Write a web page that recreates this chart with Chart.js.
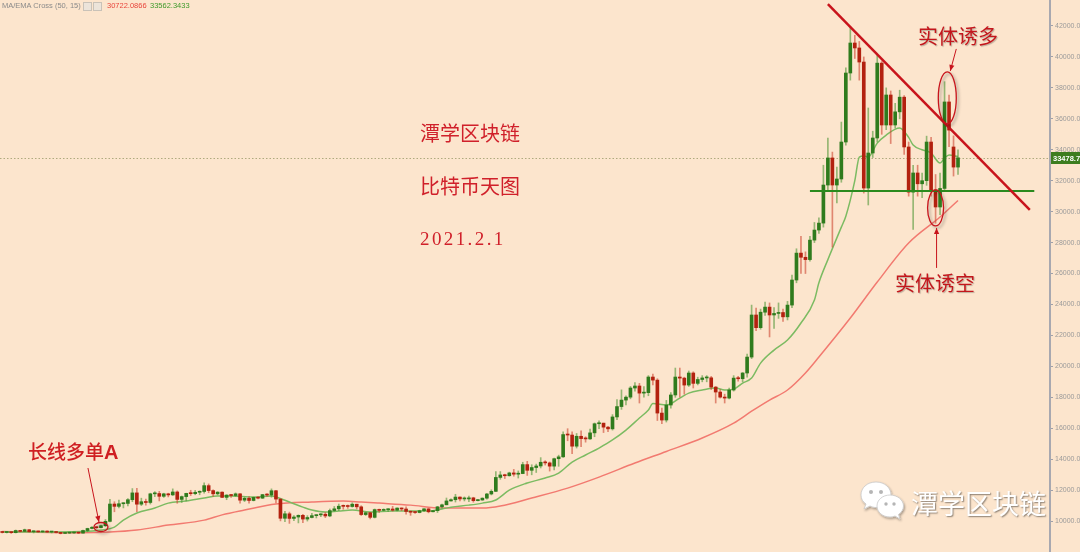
<!DOCTYPE html>
<html>
<head>
<meta charset="utf-8">
<script src="https://cdn.jsdelivr.net/npm/chart.js@4.4.1/dist/chart.umd.min.js"></script>
<style>
html,body{margin:0;padding:0;background:#fce5cd;}
#wrap{position:relative;width:1080px;height:552px;overflow:hidden;background:#fce5cd;}
#c{position:absolute;left:0;top:0;}
.t{position:absolute;white-space:nowrap;line-height:1;font-family:"Noto Sans CJK SC",sans-serif;}
.red{color:#d0202a;}
.hdr{position:absolute;top:2px;font-family:"Liberation Sans",Arial,sans-serif;font-size:7.5px;line-height:1;white-space:nowrap;}
.box{position:absolute;top:2px;width:7px;height:7px;border:1px solid #c9c2b8;background:#ece4da;}
</style>
</head>
<body>
<div id="wrap">
<canvas id="c" width="1080" height="552"></canvas>

<div class="hdr" style="left:2px;color:#8a8a8a;">MA/EMA Cross (50, 15)</div>
<div class="hdr" style="left:76px;color:#b0a8a0;">-</div>
<div class="box" style="left:83px;"></div>
<div class="box" style="left:93px;"></div>
<div class="hdr" style="left:107px;color:#e8453c;">30722.0866</div>
<div class="hdr" style="left:150px;color:#3f9a2c;">33562.3433</div>

<div class="t red" style="left:420px;top:123px;font-size:20px;">潭学区块链</div>
<div class="t red" style="left:420px;top:176px;font-size:20px;">比特币天图</div>
<div class="t red" style="left:420px;top:229px;font-size:19px;font-family:'Liberation Serif',serif;letter-spacing:2.4px;">2021.2.1</div>

<div class="t" style="left:918px;top:26px;font-size:20px;color:#c3161c;text-shadow:1px 1px 1px rgba(0,0,0,0.25);">实体诱多</div>
<div class="t" style="left:895px;top:273px;font-size:20px;color:#c3161c;text-shadow:1px 1px 1px rgba(0,0,0,0.25);">实体诱空</div>
<div class="t" style="left:28px;top:441px;font-size:19px;color:#cf1f22;font-weight:500;">长线多单<span style="font-family:'Liberation Sans',Arial,sans-serif;font-weight:bold;font-size:20px;">A</span></div>

<svg style="position:absolute;left:859px;top:480px;" width="48" height="44" viewBox="0 0 48 44">
  <defs><filter id="sh" x="-30%" y="-30%" width="160%" height="160%"><feDropShadow dx="1" dy="1.5" stdDeviation="1.2" flood-color="#000" flood-opacity="0.35"/></filter></defs>
  <g filter="url(#sh)">
    <path d="M17 2 C8 2 2 8 2 15 C2 19 4 22 7 24 L5 29 L11 26 C13 27 15 27.5 17 27.5 C26 27.5 32 21.5 32 15 C32 8 26 2 17 2 Z" fill="#fff" stroke="#c8c8c8" stroke-width="0.8"/>
    <path d="M31 15 C23.5 15 18 20 18 26 C18 32 23.5 37 31 37 C33 37 34.5 36.6 36 36 L41 39 L39.5 34.5 C42.5 32.3 44.5 29.3 44.5 26 C44.5 20 38.5 15 31 15 Z" fill="#fff" stroke="#c8c8c8" stroke-width="0.8"/>
  </g>
  <circle cx="12" cy="12" r="2" fill="#b5b5b5"/><circle cx="22" cy="12" r="2" fill="#b5b5b5"/>
  <circle cx="27" cy="24" r="1.7" fill="#b5b5b5"/><circle cx="35" cy="24" r="1.7" fill="#b5b5b5"/>
</svg>
<div class="t" style="left:911px;top:489px;font-size:27px;color:#ffffff;text-shadow:1px 1px 1.5px rgba(0,0,0,0.45);">潭学区块链</div>
</div>

<script>
// ---------- data ----------
const startDate = '2020-07-03';
const slotCount = 234;   // daily slots shown on the time axis (data + empty right margin)

const opens = [
9300,9260,9290,9250,9390,9330,9440,9310,9330,9300,9340,9290,9300,9260,9200,9220,9230,9270,9220,9390,9520,9600,9570,9700,9980,11100,10950,11120,11140,
11380,11820,11090,11250,11200,11760,11780,11600,11760,11690,11880,11400,11580,11790,11770,11860,11910,12290,11970,11760,11870,11530,11680,11650,11760,11350,11470,11330,11530,11480,11710,
11680,11960,11420,10180,10470,10170,10260,10370,10130,10230,10350,10400,10440,10330,10680,10790,10960,10950,10940,11090,10920,10420,10540,10240,10740,10690,10730,10780,10700,10840,
10780,10620,10570,10550,10670,10790,10600,10670,10920,11050,11300,11380,11550,11430,11430,11500,11320,11360,11480,11750,11920,12820,12980,12930,13110,13030,13070,13650,13280,13460,13560,
13800,13760,13550,14030,14150,15590,15560,14840,15480,15330,15310,15700,16290,16330,16070,15960,16730,17400,17820,18010,18600,18730,18270,18300,19310,19110,16980,16530,17500,18150,
19310,19240,18790,19570,18900,19150,19250,19260,18660,18340,18010,17950,18470,19240,19200,19570,20600,23320,22500,23500,23830,23320,23420,23480,23200,23960,25580,27320,27050,26900,28160,
28810,29260,31720,33470,31720,32110,34500,38960,40900,40580,39670,31525,33790,34760,39600,35600,37540,35600,36450,37400,34180,31260,32500,31800,32000,34500,31400,30300,31500,37090,34180,
32880];
const highs = [
9330,9320,9300,9420,9400,9480,9460,9360,9350,9360,9370,9320,9310,9270,9240,9250,9280,9280,9410,9540,9640,9640,9740,10100,11400,11250,11350,11180,11450,
12100,12120,11480,11420,11800,11900,11920,11800,11800,12080,11950,11620,11800,11990,11980,11950,12470,12400,12020,11900,11890,11700,11720,11820,11770,11540,11580,11550,11580,11720,11780,
12080,11980,11450,10630,10580,10350,10400,10430,10350,10500,10400,10480,10560,10780,10940,11100,11040,11040,11180,11090,10990,10580,10560,10780,10780,10790,10800,10950,10860,10850,
10920,10650,10600,10700,10800,10800,10690,10950,11100,11490,11440,11730,11560,11560,11620,11540,11400,11500,11800,12020,13200,13200,13030,13160,13340,13240,13800,13860,13640,13680,14100,
13900,13820,14070,14260,15760,15970,15770,15660,15840,15450,15950,16340,16480,16330,16130,16880,17850,18480,18100,18700,18950,18900,18700,19400,19500,19200,17300,17800,18300,19890,
19890,19300,19700,19650,19300,19400,19400,19350,18700,18500,18200,18600,19400,19350,19600,20800,23960,23770,23700,24160,24100,23800,24100,23700,24200,25900,27600,28400,27400,28400,29300,
29600,33000,34760,33850,32880,35790,39300,41930,41400,41000,40000,36700,35200,40100,39700,38000,37800,37000,37850,37500,34500,33000,33000,32500,34880,34800,32400,32500,38400,37540,34900,
34000];
const lows = [
9230,9230,9200,9230,9300,9320,9280,9230,9280,9270,9260,9230,9230,9170,9180,9200,9200,9200,9210,9300,9490,9530,9560,9650,9950,10600,10850,10850,10980,
11250,10600,11000,11020,11100,11580,11300,11530,11560,11650,11150,11200,11300,11650,11700,11700,11800,11830,11600,11690,11510,11380,11530,11600,11150,11260,11150,11300,11430,11460,11600,
11540,11180,10010,9960,9850,10030,9880,9900,10000,10200,10200,10290,10220,10280,10630,10670,10760,10820,10900,10780,10360,10360,10140,10200,10560,10660,10630,10640,10650,10670,
10450,10370,10500,10530,10610,10530,10590,10550,10830,11050,11280,11230,11300,11300,11260,11220,11300,11340,11420,11690,11900,12700,12750,12900,12900,12780,13060,12950,12990,13140,13430,
13620,13230,13300,13540,14110,15190,14360,14720,14810,15100,15280,15450,15970,15720,15770,15880,16550,17220,17500,17900,18400,17630,18000,18100,18800,16500,16300,16400,17300,18000,
18010,18200,18700,18600,18800,19000,19000,18500,17630,17950,17630,17900,18400,19050,19000,19300,20500,22300,22400,23300,21900,22450,23100,22900,23000,23800,25400,26000,26000,26800,28000,
28600,29000,31400,27710,30560,31900,34300,38500,39900,38500,31200,30430,33500,34500,35000,35300,34400,35400,36000,33700,31000,28850,31000,30900,31700,31000,29250,29800,31300,34200,32300,
32400];
const closes = [
9260,9290,9250,9390,9330,9440,9310,9330,9300,9340,9290,9300,9260,9200,9220,9230,9270,9220,9390,9520,9600,9570,9700,9980,11100,10950,11120,11140,11380,
11820,11090,11250,11200,11760,11780,11600,11760,11690,11880,11400,11580,11790,11770,11860,11910,12290,11970,11760,11870,11530,11680,11650,11760,11350,11470,11330,11530,11480,11710,11680,
11960,11420,10180,10470,10170,10260,10370,10130,10230,10350,10400,10440,10330,10680,10790,10960,10950,10940,11090,10920,10420,10540,10240,10740,10690,10730,10780,10700,10840,10780,
10620,10570,10550,10670,10790,10600,10670,10920,11050,11300,11380,11550,11430,11430,11500,11320,11360,11480,11750,11920,12820,12980,12930,13110,13030,13070,13650,13280,13460,13560,13800,
13760,13550,14030,14150,15590,15560,14840,15480,15330,15310,15700,16290,16330,16070,15960,16730,17400,17820,18010,18600,18730,18270,18300,19310,19110,16980,16530,17500,18150,19310,
19240,18790,19570,18900,19150,19250,19260,18660,18340,18010,17950,18470,19240,19200,19570,20600,23320,22500,23500,23830,23320,23420,23480,23200,23960,25580,27320,27050,26900,28160,28810,
29260,31720,33470,31720,32110,34500,38960,40900,40580,39670,31525,33790,34760,39600,35600,37540,35600,36450,37400,34180,31260,32500,31800,32000,34500,31400,30300,31500,37090,35270,32880,
33478.71];

const emaDates = ['2020-07-03','2020-07-21','2020-07-25','2020-07-28','2020-07-30','2020-08-02','2020-08-06','2020-08-09','2020-08-13','2020-08-17','2020-08-20','2020-08-23','2020-08-28','2020-09-01','2020-09-02','2020-09-05','2020-09-08','2020-09-10','2020-09-13','2020-09-16','2020-09-19','2020-09-23','2020-09-28','2020-10-02','2020-10-06','2020-10-09','2020-10-11','2020-10-15','2020-10-18','2020-10-21','2020-10-24','2020-10-28','2020-11-01','2020-11-04','2020-11-07','2020-11-10','2020-11-13','2020-11-16','2020-11-19','2020-11-22','2020-11-24','2020-11-25','2020-11-28','2020-12-01','2020-12-03','2020-12-06','2020-12-09','2020-12-11','2020-12-13','2020-12-15','2020-12-17','2020-12-19','2020-12-22','2020-12-25','2020-12-28','2020-12-31','2021-01-01','2021-01-03','2021-01-06','2021-01-07','2021-01-09','2021-01-10','2021-01-11','2021-01-12','2021-01-14','2021-01-16','2021-01-19','2021-01-21','2021-01-22','2021-01-24','2021-01-26','2021-01-28','2021-01-29','2021-01-30','2021-02-01'];
const emaValues = [9290,9330,9420,9610,10060,10520,10840,11160,11290,11490,11620,11620,11550,11620,11560,11230,10900,10710,10580,10650,10710,10580,10650,10650,10650,10780,10900,11030,11160,11360,12000,12460,12780,13100,13810,14270,14720,15240,15880,16660,17180,17600,17500,17950,18270,18470,18600,18470,18530,18920,19240,20210,21050,21700,22800,24290,25400,26900,29000,29700,32000,33530,33600,33530,34430,34950,35400,34800,34300,34000,33790,33140,33460,33660,33562.34];

const maDates = ['2020-07-03','2020-07-20','2020-07-27','2020-08-02','2020-08-09','2020-08-17','2020-08-21','2020-08-26','2020-09-02','2020-09-10','2020-09-17','2020-09-21','2020-09-25','2020-10-02','2020-10-09','2020-10-18','2020-10-22','2020-10-29','2020-11-06','2020-11-13','2020-11-21','2020-11-28','2020-12-06','2020-12-13','2020-12-17','2020-12-21','2020-12-25','2020-12-29','2021-01-01','2021-01-08','2021-01-14','2021-01-21','2021-01-28','2021-02-01'];
const maValues = [9330,9250,9290,9420,9740,10060,10400,10710,11100,11230,11290,11230,11160,11030,10840,10840,10970,11490,12130,12840,13750,14500,15370,16330,17100,17820,18470,19570,20600,23120,25450,27970,29650,30722.09];

// hand-drawn lines of the analysis (price levels)
const trendDates = ['2021-01-03','2021-02-17'];
const trendValues = [43420, 30120];
const supportDates = ['2020-12-30','2021-02-18'];
const supportValues = [31335, 31335];

const yTicks = [10000,12000,14000,16000,18000,20000,22000,24000,26000,28000,30000,32000,34000,36000,38000,40000,42000];

// ---------- build ----------
const labels = [];
(function(){ const d0 = new Date(startDate + 'T00:00:00Z'); for (let k = 0; k < slotCount; k++) { labels.push(new Date(d0.getTime() + k*86400000).toISOString().slice(0,10)); } })();
const pts = (ds, vs) => ds.map((d, i) => ({x: d, y: vs[i]}));
const isUp = closes.map((c, i) => c >= opens[i]);
const UP = '#2f7b1d', DN = '#b3210f', UPW = 'rgba(80,150,55,0.6)', DNW = 'rgba(205,70,50,0.6)';
const idx = d => labels.indexOf(d);

const annot = {
  id: 'annot',
  beforeDatasetsDraw(chart) {
    const {ctx, chartArea: a, scales: {y}} = chart;
    const py = y.getPixelForValue(closes[closes.length-1]);
    ctx.save();
    ctx.strokeStyle = 'rgba(150,150,100,0.75)';
    ctx.lineWidth = 1;
    ctx.setLineDash([1.5, 2]);
    ctx.beginPath(); ctx.moveTo(a.left, Math.round(py)+0.5); ctx.lineTo(a.right, Math.round(py)+0.5); ctx.stroke();
    ctx.restore();
  },
  afterDatasetsDraw(chart) {
    const {ctx, scales: {x, y}} = chart;
    const ell = (cx, cy, rx, ry) => {
      ctx.save();
      ctx.shadowColor = 'rgba(0,0,0,0.35)'; ctx.shadowBlur = 3; ctx.shadowOffsetX = 2; ctx.shadowOffsetY = 2;
      ctx.strokeStyle = '#c8141c'; ctx.lineWidth = 1.3;
      ctx.beginPath(); ctx.ellipse(cx, cy, rx, ry, 0, 0, Math.PI*2); ctx.stroke();
      ctx.restore();
    };
    const arrow = (x1, y1, x2, y2) => {
      ctx.save();
      ctx.strokeStyle = '#c8141c'; ctx.fillStyle = '#c8141c'; ctx.lineWidth = 1;
      ctx.beginPath(); ctx.moveTo(x1, y1); ctx.lineTo(x2, y2); ctx.stroke();
      const ang = Math.atan2(y2 - y1, x2 - x1), L = 6, W = 2.6;
      ctx.beginPath();
      ctx.moveTo(x2, y2);
      ctx.lineTo(x2 - L*Math.cos(ang) + W*Math.sin(ang), y2 - L*Math.sin(ang) - W*Math.cos(ang));
      ctx.lineTo(x2 - L*Math.cos(ang) - W*Math.sin(ang), y2 - L*Math.sin(ang) + W*Math.cos(ang));
      ctx.closePath(); ctx.fill();
      ctx.restore();
    };
    // 实体诱多
    const xa = (x.getPixelForValue(idx('2021-01-29')) + x.getPixelForValue(idx('2021-01-30'))) / 2 + 0.5;
    const ya = y.getPixelForValue(37350);
    ell(xa, ya, 9, 26);
    arrow(xa + 9, ya - 49, xa + 3, ya - 27);
    // 实体诱空
    const xb = x.getPixelForValue(idx('2021-01-27'));
    const yb = y.getPixelForValue(30240);
    ell(xb, yb, 8, 18);
    arrow(xb + 1, yb + 60, xb + 1, yb + 20);
    // 长线多单A
    const xc = x.getPixelForValue(idx('2020-07-25'));
    const yc = y.getPixelForValue(9616);
    ell(xc, yc, 7, 4.5);
    arrow(xc - 13, yc - 59, xc - 2, yc - 5);
  },
  afterDraw(chart) {
    const {ctx, chartArea: a, scales: {y}} = chart;
    const last = closes[closes.length-1];
    const py = y.getPixelForValue(last);
    ctx.save();
    ctx.fillStyle = '#3d7d1f';
    ctx.fillRect(a.right + 1, Math.round(py) - 6, 30, 12);
    ctx.fillStyle = '#ffffff';
    ctx.font = 'bold 7.5px "Liberation Sans", Arial, sans-serif';
    ctx.textBaseline = 'middle';
    ctx.fillText(last.toFixed(2), a.right + 3, Math.round(py) + 0.5);
    ctx.restore();
  }
};

new Chart(document.getElementById('c'), {
  type: 'bar',
  data: {
    labels: labels,
    datasets: [
      {type: 'line', label: 'trend', data: pts(trendDates, trendValues), borderColor: '#c8141c', borderWidth: 2.5, pointRadius: 0, order: 0},
      {type: 'line', label: 'support', data: pts(supportDates, supportValues), borderColor: '#2b8a1e', borderWidth: 2, pointRadius: 0, order: 0},
      {label: 'body', data: opens.map((o, i) => [o, closes[i]]), backgroundColor: isUp.map(u => u ? UP : DN), barThickness: 3, minBarLength: 1, grouped: false, order: 1},
      {label: 'wick', data: lows.map((l, i) => [l, highs[i]]), backgroundColor: isUp.map(u => u ? UPW : DNW), barThickness: 1, grouped: false, order: 2},
      {type: 'line', label: 'EMA 15', data: pts(emaDates, emaValues), borderColor: '#7cbb62', borderWidth: 1.5, pointRadius: 0, cubicInterpolationMode: 'monotone', order: 3},
      {type: 'line', label: 'MA 50', data: pts(maDates, maValues), borderColor: '#f27a70', borderWidth: 1.5, pointRadius: 0, cubicInterpolationMode: 'monotone', order: 3}
    ]
  },
  options: {
    responsive: false,
    animation: false,
    devicePixelRatio: 1,
    layout: {padding: 0},
    plugins: {legend: {display: false}, tooltip: {enabled: false}},
    scales: {
      x: {display: false, offset: true, grid: {display: false}},
      y: {
        position: 'right', min: 8000, max: 43680,
        afterBuildTicks: s => { s.ticks = yTicks.map(v => ({value: v})); },
        ticks: {callback: v => Number(v).toFixed(2), color: '#9a9a9a', font: {size: 7, family: '"Liberation Sans", Arial, sans-serif'}, padding: 2},
        grid: {drawOnChartArea: false, drawTicks: true, tickLength: 3, color: '#a0a0a8'},
        border: {color: '#a8a8b0', width: 2},
        afterFit: s => { s.width = 30; s.paddingTop = 0; s.paddingBottom = 0; }
      }
    }
  },
  plugins: [annot]
});
</script>
</body>
</html>
